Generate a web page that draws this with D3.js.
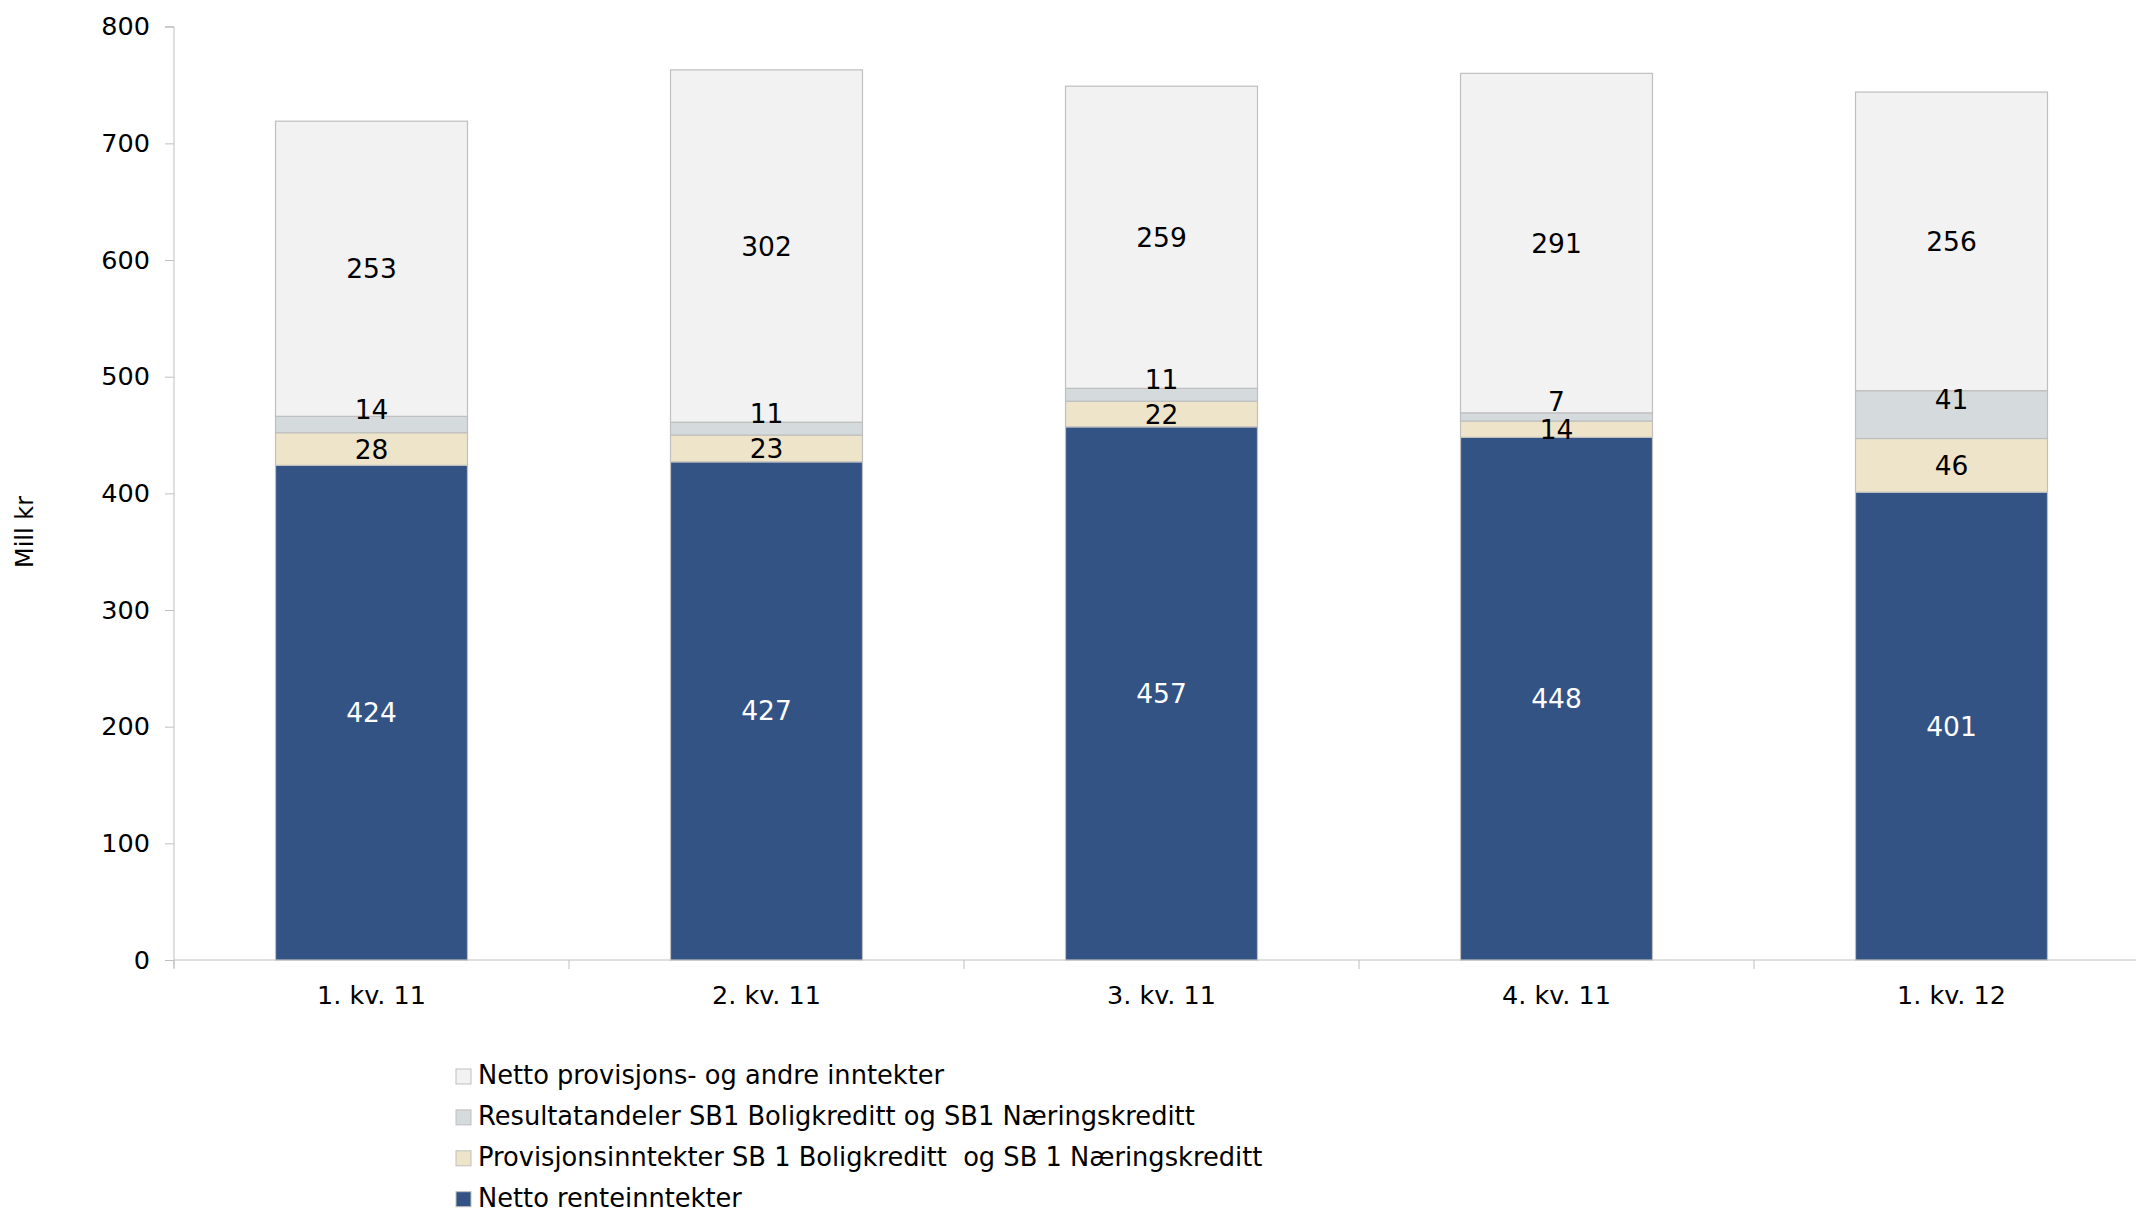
<!DOCTYPE html>
<html>
<head>
<meta charset="utf-8">
<script src="https://cdn.jsdelivr.net/npm/d3@7"></script>
<style>
  html, body { margin: 0; padding: 0; background: #fff; }
  svg { display: block; font-family: "DejaVu Sans", Verdana, sans-serif; }
</style>
</head>
<body>
<svg id="chart" width="2136" height="1212"></svg>
<script>
// ---- data ----
const categories = ["1. kv. 11", "2. kv. 11", "3. kv. 11", "4. kv. 11", "1. kv. 12"];
const seriesNames = [
  "Netto renteinntekter",
  "Provisjonsinntekter SB 1 Boligkreditt  og SB 1 Næringskreditt",
  "Resultatandeler SB1 Boligkreditt og SB1 Næringskreditt",
  "Netto provisjons- og andre inntekter"
];
const nettoRente = [424, 427, 457, 448, 401];
const provisjonSB1 = [28, 23, 22, 14, 46];
const resultatandeler = [14, 11, 11, 7, 41];
const nettoProvisjon = [253, 302, 259, 291, 256];
const yTicks = [0, 100, 200, 300, 400, 500, 600, 700, 800];
const yTitle = "Mill kr";

const seriesValues = [nettoRente, provisjonSB1, resultatandeler, nettoProvisjon];
const colors = ["#335385", "#EEE4C9", "#D5DADD", "#F2F2F2"];
const labelColors = ["#ffffff", "#000000", "#000000", "#000000"];
const labelShift = [0, 0, -15, 0];

// table for d3.stack
const keys = seriesNames.map((d, i) => "s" + i);
const table = categories.map((c, j) => {
  const row = { cat: c };
  keys.forEach((k, i) => row[k] = seriesValues[i][j]);
  return row;
});

const svg = d3.select("#chart");
const plotLeft = 174, plotRight = 2149, plotTop = 26.7, plotBottom = 960;

const x = d3.scaleBand().domain(categories).range([plotLeft, plotRight])
  .paddingInner(0.514).paddingOuter(0.257);
const y = d3.scaleLinear().domain([0, 800]).range([plotBottom, plotTop]);

const axisColor = "#c0c0c0";

// y axis
const yAxis = svg.append("g").attr("transform", `translate(${plotLeft},0)`)
  .call(d3.axisLeft(y).tickValues(yTicks).tickSize(9).tickPadding(15).tickFormat(d3.format("d")));
yAxis.select(".domain").attr("stroke", axisColor).attr("d", `M-9,${plotTop}H0V${plotBottom + 8}`);
yAxis.selectAll(".tick line").attr("stroke", axisColor);
yAxis.selectAll(".tick text").attr("font-size", 25.5).attr("fill", "#000")
  .attr("font-family", "'DejaVu Sans', sans-serif");

// x axis
const xAxisG = svg.append("g").attr("transform", `translate(0,${plotBottom})`);
xAxisG.append("line").attr("x1", plotLeft).attr("x2", 2136).attr("y1", 0).attr("y2", 0)
  .attr("stroke", axisColor).attr("stroke-width", 1);
const step = x.step();
d3.range(categories.length + 1).forEach(i => {
  const xx = plotLeft + i * step;
  xAxisG.append("line").attr("x1", xx).attr("x2", xx).attr("y1", 0).attr("y2", 9)
    .attr("stroke", axisColor);
});
xAxisG.selectAll("text.xlab").data(categories).enter().append("text")
  .attr("class", "xlab")
  .attr("x", d => x(d) + x.bandwidth() / 2)
  .attr("y", 44)
  .attr("text-anchor", "middle")
  .attr("font-size", 25.5)
  .attr("fill", "#000")
  .text(d => d);

// stacked bars
const stacked = d3.stack().keys(keys)(table);
const layers = svg.append("g").selectAll("g.layer").data(stacked).enter().append("g")
  .attr("class", "layer").attr("fill", (d, i) => colors[i]);
layers.selectAll("rect").data(d => d).enter().append("rect")
  .attr("x", d => x(d.data.cat))
  .attr("y", d => y(d[1]))
  .attr("width", x.bandwidth())
  .attr("height", d => y(d[0]) - y(d[1]))
  .attr("stroke", "#bfbfbf")
  .attr("stroke-width", 1.2);

// labels
stacked.forEach((layer, i) => {
  svg.append("g").selectAll("text").data(layer).enter().append("text")
    .attr("x", d => x(d.data.cat) + x.bandwidth() / 2)
    .attr("y", d => (y(d[0]) + y(d[1])) / 2 + labelShift[i])
    .attr("dy", "0.36em")
    .attr("text-anchor", "middle")
    .attr("font-size", 26.5)
    .attr("fill", labelColors[i])
    .text(d => d[1] - d[0]);
});

// y title
svg.append("text")
  .attr("transform", "translate(33,532) rotate(-90)")
  .attr("text-anchor", "middle")
  .attr("font-size", 24)
  .attr("fill", "#000")
  .text(yTitle);

// legend (reverse order, top = last series)
const legendOrder = [3, 2, 1, 0];
const lg = svg.append("g");
legendOrder.forEach((si, r) => {
  const by = 1084 + r * 40.9;
  lg.append("rect").attr("x", 456).attr("y", by - 15).attr("width", 15).attr("height", 15)
    .attr("fill", colors[si]).attr("stroke", "#bfbfbf").attr("stroke-width", 1);
  lg.append("text").attr("x", 478).attr("y", by)
    .attr("font-size", 25.7).attr("fill", "#000")
    .attr("xml:space", "preserve").style("white-space", "pre")
    .text(seriesNames[si]);
});
</script>
</body>
</html>
